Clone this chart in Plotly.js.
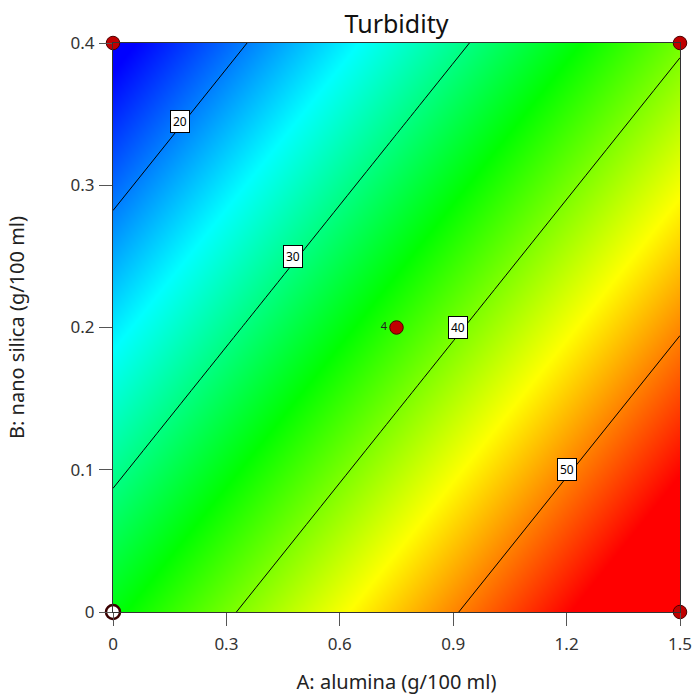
<!DOCTYPE html>
<html>
<head>
<meta charset="utf-8">
<script src="https://cdn.plot.ly/plotly-3.0.1.min.js"></script>
<style>html,body{margin:0;padding:0;background:#fff;}#chart{width:694px;height:695px;}</style>
</head>
<body>
<div id="chart"></div>
<script>
// Factor grid (A: alumina, B: nano silica) and Turbidity
var gridA = [0, 0.75, 1.5];
var gridB = [0, 0.2, 0.4];
var turbidity = [
  [34.45, 47.20, 59.95],
  [24.21, 36.96, 49.71],
  [13.97, 26.72, 39.47]
];
// contour levels and where their boxed labels sit
var levels = [20, 30, 40, 50];
var labelA = [0.176, 0.476, 0.914, 1.200];
var labelB = [0.345, 0.250, 0.200, 0.100];
// design points
var ptsA = [0, 1.5, 0.75, 1.5];
var ptsB = [0.4, 0.4, 0.2, 0];
var ptsText = ['', '', '4', ''];
var openA = [0];
var openB = [0];
var xTicks = [0, 0.3, 0.6, 0.9, 1.2, 1.5];
var xTickText = ['0', '0.3', '0.6', '0.9', '1.2', '1.5'];
var yTicks = [0, 0.1, 0.2, 0.3, 0.4];
var yTickText = ['0', '0.1', '0.2', '0.3', '0.4'];

var FONT = 'Noto Sans, Open Sans, sans-serif';

var traces = [
  {
    type: 'contour',
    x: gridA, y: gridB, z: turbidity,
    colorscale: [[0, '#0000FF'], [0.25, '#00FFFF'], [0.5, '#00FF00'], [0.75, '#FFFF00'], [1, '#FF0000']],
    showscale: false,
    contours: {coloring: 'heatmap', start: levels[0], end: levels[levels.length - 1], size: levels[1] - levels[0], showlabels: false},
    line: {color: '#000', width: 1, smoothing: 0},
    hoverinfo: 'skip'
  },
  {
    type: 'scatter', mode: 'markers+text',
    x: ptsA, y: ptsB, text: ptsText,
    textposition: 'middle left',
    textfont: {family: FONT, size: 11, color: '#222'},
    marker: {color: '#C00000', size: 13.5, line: {color: '#4a0000', width: 1}},
    cliponaxis: false, hoverinfo: 'skip'
  },
  {
    type: 'scatter', mode: 'markers',
    x: openA, y: openB,
    marker: {color: '#FFFFFF', size: 14, line: {color: '#3a0000', width: 2.5}},
    cliponaxis: false, hoverinfo: 'skip'
  }
];

var annotations = levels.map(function (lv, i) {
  return {
    x: labelA[i], y: labelB[i], xref: 'x', yref: 'y',
    text: String(lv), showarrow: false,
    font: {family: FONT, size: 12, color: '#000'},
    bgcolor: '#FFFFFF', bordercolor: '#000', borderwidth: 1, borderpad: 2
  };
});

var layout = {
  width: 694, height: 695,
  margin: {l: 113, r: 14, t: 43, b: 83},
  paper_bgcolor: '#fff', plot_bgcolor: '#fff',
  showlegend: false,
  font: {family: FONT, color: '#333'},
  title: {text: 'Turbidity', font: {family: FONT, size: 25, color: '#111'}, x: 0.5, xref: 'paper', y: 0.965, yref: 'container', yanchor: 'middle'},
  xaxis: {
    range: [0, 1.5], tickvals: xTicks, ticktext: xTickText,
    showgrid: false, zeroline: false, showline: true, linecolor: '#333', linewidth: 1, mirror: true,
    ticks: 'outside', ticklen: 13, tickcolor: '#555', tickwidth: 1, ticklabelstandoff: 4,
    tickfont: {family: FONT, size: 17, color: '#333'},
    title: {text: 'A: alumina (g/100 ml)', font: {family: FONT, size: 20, color: '#222'}, standoff: 30}
  },
  yaxis: {
    range: [0, 0.4], tickvals: yTicks, ticktext: yTickText,
    showgrid: false, zeroline: false, showline: true, linecolor: '#333', linewidth: 1, mirror: true,
    ticks: 'outside', ticklen: 13, tickcolor: '#555', tickwidth: 1, ticklabelstandoff: 1,
    tickfont: {family: FONT, size: 17, color: '#333'},
    title: {text: 'B: nano silica (g/100 ml)', font: {family: FONT, size: 20, color: '#222'}, standoff: 40}
  },
  annotations: annotations
};

Plotly.newPlot('chart', traces, layout, {displayModeBar: false, staticPlot: true});
</script>
</body>
</html>
